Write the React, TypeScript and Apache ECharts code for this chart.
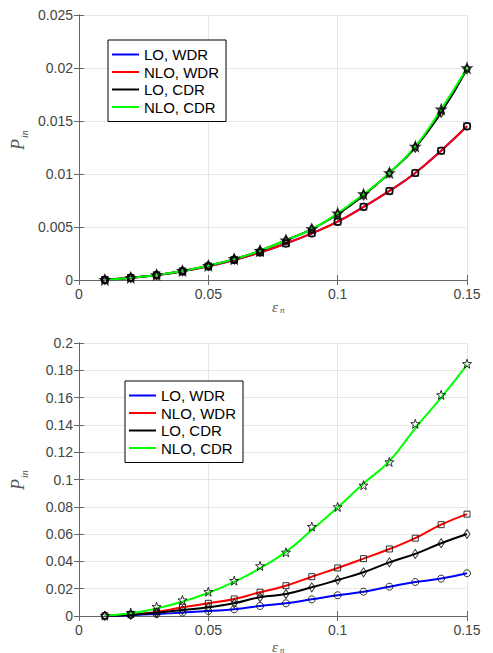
import React, { useEffect, useRef } from "react";
import * as echarts from "echarts";

const eps = [0.01, 0.02, 0.03, 0.04, 0.05, 0.06, 0.07, 0.08, 0.09, 0.1, 0.11, 0.12, 0.13, 0.14, 0.15];
const seriesNames = ["LO, WDR", "NLO, WDR", "LO, CDR", "NLO, CDR"];
const seriesColors = ["#0000ff", "#ff0000", "#000000", "#00ff00"];

// Top panel
const topLoWdr = [0.00002, 0.00022, 0.00046, 0.00083, 0.0013, 0.0019, 0.0026, 0.00345, 0.0044, 0.0055, 0.0069, 0.0084, 0.0101, 0.0122, 0.0145];
const topNloWdr = [0.00002, 0.00022, 0.00046, 0.00083, 0.0013, 0.0019, 0.0026, 0.00345, 0.0044, 0.0055, 0.0069, 0.0084, 0.0101, 0.0122, 0.0145];
const topLoCdr = [0.00002, 0.00022, 0.00048, 0.00086, 0.00135, 0.00197, 0.00276, 0.00375, 0.0048, 0.0062, 0.008, 0.0101, 0.0125, 0.0158, 0.0199];
const topNloCdr = [0.00002, 0.00022, 0.00048, 0.00086, 0.00135, 0.00197, 0.00276, 0.00375, 0.0048, 0.0063, 0.0081, 0.0101, 0.0126, 0.0161, 0.0200];

// Bottom panel (curves)
const botLoWdr = [0.0001, 0.0006, 0.0014, 0.0025, 0.0037, 0.0049, 0.0073, 0.0093, 0.0122, 0.0152, 0.0178, 0.0215, 0.0249, 0.0274, 0.0313];
const botNloWdr = [0.0002, 0.0012, 0.003, 0.0064, 0.0093, 0.0125, 0.0174, 0.0222, 0.0288, 0.0352, 0.042, 0.0491, 0.057, 0.0669, 0.0746];
const botLoCdr = [0.0001, 0.0009, 0.0023, 0.0044, 0.0064, 0.0093, 0.0137, 0.0161, 0.021, 0.0264, 0.032, 0.0393, 0.0455, 0.0533, 0.0601];
const botNloCdr = [0.0003, 0.002, 0.0055, 0.0105, 0.017, 0.025, 0.035, 0.047, 0.063, 0.0795, 0.097, 0.1135, 0.1375, 0.16, 0.184];
// Bottom panel star markers (NLO, CDR data points)
const botNloCdrStars = [0.0003, 0.0025, 0.0068, 0.0117, 0.0178, 0.0259, 0.0367, 0.0467, 0.0655, 0.0799, 0.0958, 0.1129, 0.1408, 0.162, 0.1848];

const topYTicks = { min: 0, max: 0.025, interval: 0.005 };
const botYTicks = { min: 0, max: 0.2, interval: 0.02 };
const xTicks = { min: 0, max: 0.15, interval: 0.05 };

const STAR = "path://M0,-10 L2.35,-3.24 L9.51,-3.09 L3.8,1.24 L5.88,8.09 L0,4 L-5.88,8.09 L-3.8,1.24 L-9.51,-3.09 L-2.35,-3.24 Z";
const markerSymbols = ["circle", "rect", "diamond", STAR];
const markerSizes: any[] = [7, 6, [6, 9], 9];

const pair = (ys: number[]) => eps.map((x, i) => [x, ys[i]]);
const fmt = (v: number) => (v === 0 ? "0" : String(parseFloat(v.toFixed(4))));

export default function App() {
  const ref = useRef<HTMLDivElement>(null);
  useEffect(() => {
    document.body.style.margin = "0";
    const chart = echarts.init(ref.current!, undefined, { renderer: "svg" });
    const axisColor = "#666";
    const labelColor = "#444";
    const font = "Liberation Sans";
    const grids = [
      { left: 79, top: 15, width: 388, height: 265 },
      { left: 79, top: 343, width: 388, height: 273 },
    ];
    const xAxes: any[] = [];
    const yAxes: any[] = [];
    [0, 1].forEach((g) => {
      xAxes.push({
        type: "value", gridIndex: g, position: "bottom", ...xTicks,
        axisLine: { show: true, lineStyle: { color: axisColor, width: 1 } },
        axisTick: { show: true, inside: true, length: 5, lineStyle: { color: axisColor } },
        axisLabel: { color: labelColor, fontSize: 14, fontFamily: font, margin: 7, formatter: fmt },
        splitLine: { show: true, lineStyle: { color: "#e6e6e6", width: 1 } },
      });
      xAxes.push({
        type: "value", gridIndex: g, position: "top", ...xTicks,
        axisLine: { show: true, lineStyle: { color: axisColor, width: 1 } },
        axisTick: { show: true, inside: true, length: 5, lineStyle: { color: axisColor } },
        axisLabel: { show: false }, splitLine: { show: false },
      });
      const yt = g === 0 ? topYTicks : botYTicks;
      yAxes.push({
        type: "value", gridIndex: g, position: "left", ...yt,
        axisLine: { show: true, lineStyle: { color: axisColor, width: 1 } },
        axisTick: { show: true, inside: true, length: 5, lineStyle: { color: axisColor } },
        axisLabel: { color: labelColor, fontSize: 14, fontFamily: font, margin: 6, formatter: fmt },
        splitLine: { show: true, lineStyle: { color: "#e6e6e6", width: 1 } },
      });
      yAxes.push({
        type: "value", gridIndex: g, position: "right", ...yt,
        axisLine: { show: true, lineStyle: { color: axisColor, width: 1 } },
        axisTick: { show: true, inside: true, length: 5, lineStyle: { color: axisColor } },
        axisLabel: { show: false }, splitLine: { show: false },
      });
    });

    const topLines = [topLoWdr, topNloWdr, topLoCdr, topNloCdr];
    const botLines = [botLoWdr, botNloWdr, botLoCdr, botNloCdr];
    const botMarkers = [botLoWdr, botNloWdr, botLoCdr, botNloCdrStars];
    const series: any[] = [];
    [0, 1].forEach((g) => {
      const lines = g === 0 ? topLines : botLines;
      const markers = g === 0 ? topLines : botMarkers;
      lines.forEach((ys, k) => {
        series.push({
          type: "line", name: seriesNames[k], xAxisIndex: g * 2, yAxisIndex: g * 2,
          data: pair(ys), smooth: true, symbol: "none",
          lineStyle: { color: seriesColors[k], width: 2 }, itemStyle: { color: seriesColors[k] },
          z: 2 + k,
        });
      });
      markers.forEach((ys, k) => {
        series.push({
          type: "scatter", name: "m" + g + k, xAxisIndex: g * 2, yAxisIndex: g * 2,
          data: pair(ys), symbol: markerSymbols[k], symbolSize: markerSizes[k],
          itemStyle: { color: "rgba(0,0,0,0)", borderColor: "#000", borderWidth: g === 0 ? 1.5 : 1 },
          z: 10,
        });
      });
    });

    const legendBase = {
      orient: "vertical",
      data: seriesNames.map((n) => ({ name: n, icon: "rect" })),
      itemWidth: 27, itemHeight: 2, itemGap: 2.5,
      backgroundColor: "#fff", borderColor: "#000", borderWidth: 1, padding: [7, 7, 7, 4],
      textStyle: { fontSize: 15, fontFamily: font, color: "#000", lineHeight: 15 }, selectedMode: false,
    };

    const lblStyle = { fill: "#555", fontFamily: "Liberation Serif", fontStyle: "italic" };
    const graphic: any[] = [];
    [
      { py: 140, ey: 299 },
      { py: 480, ey: 639 },
    ].forEach(({ py, ey }) => {
      graphic.push({ type: "text", x: 18, y: py + 10, rotation: Math.PI / 2, style: { ...lblStyle, text: "P", fontSize: 18, textAlign: "left", textVerticalAlign: "middle" } });
      graphic.push({ type: "text", x: 24, y: py - 2, rotation: Math.PI / 2, style: { ...lblStyle, text: "in", fontSize: 10, textAlign: "left", textVerticalAlign: "middle" } });
      graphic.push({ type: "text", x: 272, y: ey, style: { ...lblStyle, text: "ε", fontSize: 15, textAlign: "left", textVerticalAlign: "top" } });
      graphic.push({ type: "text", x: 280, y: ey + 6, style: { ...lblStyle, text: "n", fontSize: 9, textAlign: "left", textVerticalAlign: "top" } });
    });

    chart.setOption({
      animation: false,
      backgroundColor: "#fff",
      grid: grids,
      xAxis: xAxes,
      yAxis: yAxes,
      legend: [
        { ...legendBase, left: 108, top: 40 },
        { ...legendBase, left: 125, top: 381 },
      ],
      series,
      graphic,
    });
    return () => chart.dispose();
  }, []);
  return <div ref={ref} style={{ width: 493, height: 653 }} />;
}
